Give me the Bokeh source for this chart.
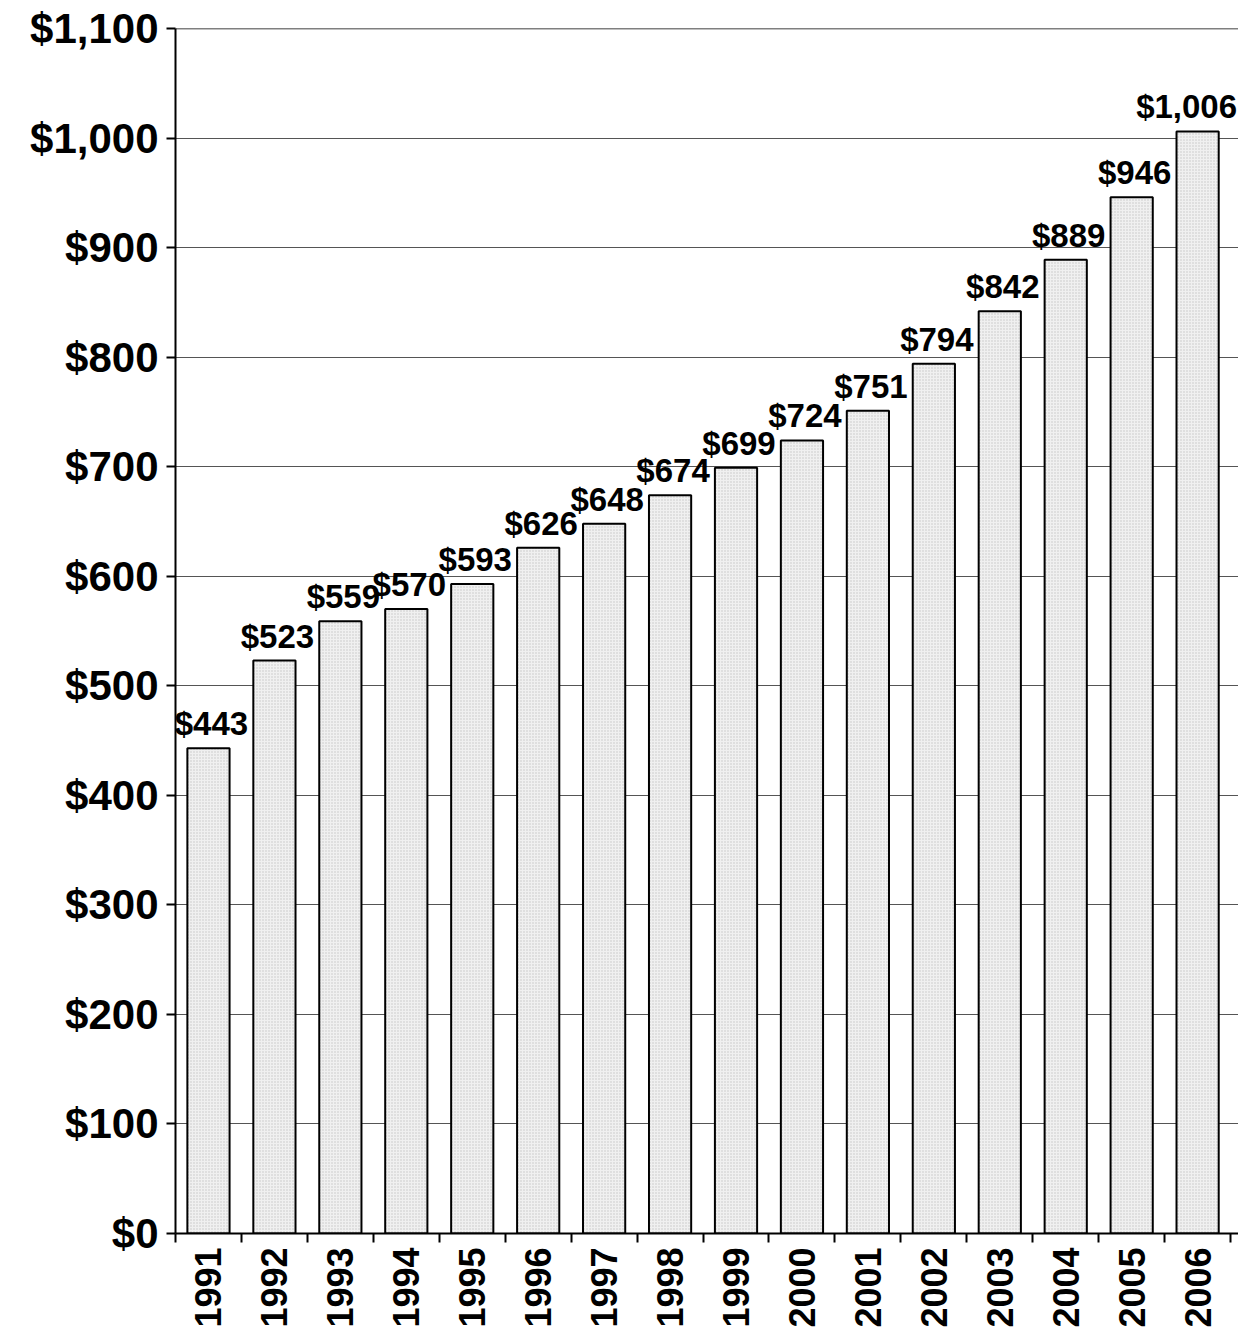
from bokeh.plotting import figure
from bokeh.models import FixedTicker, NumeralTickFormatter, Span, ColumnDataSource, Range1d, LabelSet
from bokeh.embed import file_html
from bokeh.resources import INLINE
from bokeh.core.properties import value
import math

years = ["1991", "1992", "1993", "1994", "1995", "1996", "1997", "1998",
         "1999", "2000", "2001", "2002", "2003", "2004", "2005", "2006"]
amounts = [443, 523, 559, 570, 593, 626, 648, 674, 699, 724, 751, 794, 842, 889, 946, 1006]
y_ticks = [0, 100, 200, 300, 400, 500, 600, 700, 800, 900, 1000, 1100]

n = len(years)
centers = [i + 0.5 for i in range(n)]
labels = ["${:,}".format(a) for a in amounts]
# the last label is nudged left so that it stays inside the picture, as in the reference
label_dx = [3] * (n - 1) + [-11]
src = ColumnDataSource(dict(x=centers, top=amounts, lab=labels, dx=label_dx))

p = figure(width=1238, height=1330, output_backend="svg", toolbar_location=None,
           x_range=Range1d(0, n + 0.12), y_range=Range1d(0, 1100),
           min_border_left=175, min_border_top=28, min_border_right=0, min_border_bottom=97)
p.outline_line_color = None
p.background_fill_color = "white"

p.vbar(x="x", top="top", width=0.64, bottom=0, source=src,
       fill_color="#f0f0f0", line_color="black", line_width=2,
       hatch_pattern="dot", hatch_scale=3, hatch_color="#c4c4c4", hatch_weight=1)

p.add_layout(LabelSet(x="x", y="top", text="lab", source=src, text_align="center",
                      text_baseline="bottom", x_offset="dx", y_offset=6,
                      text_font=value("Liberation Sans"),
                      text_font_style="bold", text_font_size="33px", text_color="black"))

p.add_layout(Span(location=1100, dimension="width", line_color="black", line_width=1.5))

xa = p.xaxis[0]
xa.ticker = FixedTicker(ticks=centers, minor_ticks=list(range(n + 1)))
xa.major_label_overrides = {c: y for c, y in zip(centers, years)}
xa.major_label_orientation = math.pi / 2
xa.major_tick_line_color = None
xa.major_tick_in = 0
xa.major_tick_out = 0
xa.minor_tick_in = 0
xa.minor_tick_out = 9
xa.minor_tick_line_color = "black"
xa.minor_tick_line_width = 2
xa.axis_line_color = "black"
xa.axis_line_width = 2
xa.major_label_text_font = "Liberation Sans"
xa.major_label_text_font_style = "bold"
xa.major_label_text_font_size = "36px"
xa.major_label_text_color = "black"
xa.major_label_standoff = 5

ya = p.yaxis[0]
ya.ticker = FixedTicker(ticks=y_ticks, minor_ticks=[])
ya.formatter = NumeralTickFormatter(format="$0,0")
ya.major_tick_in = 0
ya.major_tick_out = 9
ya.major_tick_line_width = 2
ya.major_tick_line_color = "black"
ya.axis_line_color = "black"
ya.axis_line_width = 2
ya.major_label_text_font = "Liberation Sans"
ya.major_label_text_font_style = "bold"
ya.major_label_text_font_size = "42px"
ya.major_label_text_color = "black"
ya.major_label_standoff = 8

p.xgrid.grid_line_color = None
p.ygrid.ticker = FixedTicker(ticks=y_ticks[:-1])
p.ygrid.grid_line_color = "#555555"
p.ygrid.grid_line_width = 1

open("out.html", "w").write(file_html(p, INLINE))
